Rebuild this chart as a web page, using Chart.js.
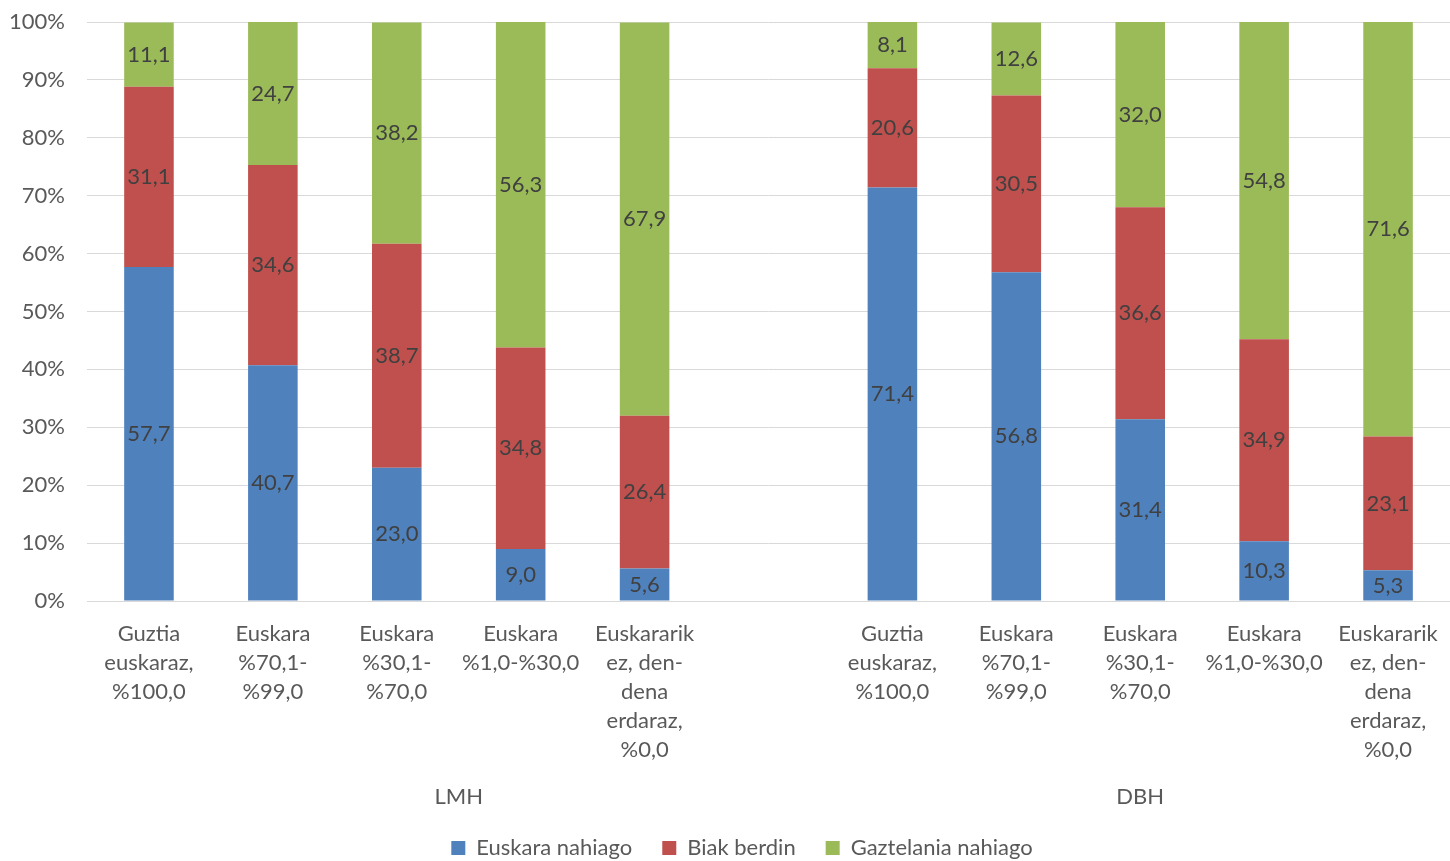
<!DOCTYPE html>
<html>
<head>
<meta charset="utf-8">
<script src="https://cdn.jsdelivr.net/npm/chart.js@4/dist/chart.umd.min.js"></script>
<style>
    html, body { margin: 0; padding: 0; background: #fff; overflow: hidden; }
    #wrap { width: 1450px; height: 861px; }
</style>
</head>
<body>
<div id="wrap"><canvas id="chart"></canvas></div>
<script>
// Groups and the categories inside each (a blank slot separates the groups)
const groups = ['LMH', 'DBH'];
const subCategories = [
    ['Guztia', 'euskaraz,', '%100,0'],
    ['Euskara', '%70,1-', '%99,0'],
    ['Euskara', '%30,1-', '%70,0'],
    ['Euskara', '%1,0-%30,0'],
    ['Euskararik', 'ez, den-', 'dena', 'erdaraz,', '%0,0']
];

// Series values, LMH then DBH
const euskaraLMH = [57.7, 40.7, 23.0, 9.0, 5.6];
const euskaraDBH = [71.4, 56.8, 31.4, 10.3, 5.3];
const biakLMH = [31.1, 34.6, 38.7, 34.8, 26.4];
const biakDBH = [20.6, 30.5, 36.6, 34.9, 23.1];
const gaztelaniaLMH = [11.1, 24.7, 38.2, 56.3, 67.9];
const gaztelaniaDBH = [8.1, 12.6, 32.0, 54.8, 71.6];

const seriesNames = ['Euskara nahiago', 'Biak berdin', 'Gaztelania nahiago'];
const seriesColors = ['#4F81BD', '#C0504D', '#9BBB59'];

const yTicks = [0, 10, 20, 30, 40, 50, 60, 70, 80, 90, 100];

const FONT = 'Lato, Carlito, Calibri, sans-serif';
const TEXT = '#595959';

// 11 slots: 5 + blank + 5
const labels = [...subCategories, '', ...subCategories];
const joinGroups = (a, b) => [...a, null, ...b];

const datasets = [
    joinGroups(euskaraLMH, euskaraDBH),
    joinGroups(biakLMH, biakDBH),
    joinGroups(gaztelaniaLMH, gaztelaniaDBH)
].map((data, i) => ({
    label: seriesNames[i],
    data: data,
    backgroundColor: seriesColors[i],
    borderWidth: 0,
    barPercentage: 0.4,
    categoryPercentage: 1
}));

// Value labels in the middle of each segment
const valueLabels = {
    id: 'valueLabels',
    afterDatasetsDraw(chart) {
        const ctx = chart.ctx;
        ctx.save();
        ctx.font = '22px ' + FONT;
        ctx.fillStyle = '#404040';
        ctx.textAlign = 'center';
        ctx.textBaseline = 'middle';
        chart.data.datasets.forEach((ds, i) => {
            chart.getDatasetMeta(i).data.forEach((bar, j) => {
                const v = ds.data[j];
                if (v === null || v === undefined) return;
                const mid = (bar.y + bar.base) / 2;
                ctx.fillText(v.toFixed(1).replace('.', ','), bar.x, mid);
            });
        });
        ctx.restore();
    }
};

// Second level of the category axis (group names)
const groupLabels = {
    id: 'groupLabels',
    afterLayout(chart) {
        // legend sits a little right of the canvas centre in the original
        if (chart.legend) {
            chart.legend.left += 17;
            chart.legend.right += 17;
        }
    },
    afterDraw(chart) {
        const x = chart.scales.x;
        const ctx = chart.ctx;
        const slot = x.width / labels.length;
        const perGroup = subCategories.length + 1;
        ctx.save();
        ctx.font = '22px ' + FONT;
        ctx.fillStyle = TEXT;
        ctx.textAlign = 'center';
        ctx.textBaseline = 'middle';
        groups.forEach((g, i) => {
            const start = i * perGroup;
            const end = Math.min(start + perGroup, labels.length);
            const cx = x.left + slot * (start + end) / 2;
            ctx.fillText(g, cx, chart.chartArea.bottom + 196);
        });
        ctx.restore();
    }
};

new Chart(document.getElementById('chart'), {
    type: 'bar',
    data: { labels: labels, datasets: datasets },
    options: {
        responsive: true,
        maintainAspectRatio: false,
        animation: false,
        layout: { padding: { top: 22, left: 0, right: 0, bottom: -8 } },
        plugins: {
            legend: {
                position: 'bottom',
                labels: {
                    boxWidth: 14,
                    boxHeight: 14,
                    padding: 30,
                    color: TEXT,
                    font: { family: FONT, size: 22 }
                }
            },
            tooltip: { enabled: false }
        },
        scales: {
            x: {
                stacked: true,
                grid: { display: false, drawTicks: false },
                border: { display: true, color: '#D9D9D9', width: 1 },
                ticks: {
                    autoSkip: false,
                    maxRotation: 0,
                    minRotation: 0,
                    padding: 18,
                    color: TEXT,
                    font: { family: FONT, size: 22, lineHeight: 1.32 }
                },
                afterFit(scale) {
                    scale.height = 206;
                    scale.paddingLeft = 0;
                    scale.paddingRight = 0;
                }
            },
            y: {
                stacked: true,
                min: 0,
                max: 100,
                afterBuildTicks(scale) { scale.ticks = yTicks.map(v => ({ value: v })); },
                grid: { color: '#D9D9D9', lineWidth: 1, drawTicks: false },
                border: { display: false },
                ticks: {
                    padding: 22,
                    color: TEXT,
                    font: { family: FONT, size: 22 },
                    callback: v => v + '%'
                },
                afterFit(scale) {
                    scale.width = 87;
                    scale.paddingTop = 0;
                    scale.paddingBottom = 0;
                }
            }
        }
    },
    plugins: [valueLabels, groupLabels]
});
</script>
</body>
</html>
